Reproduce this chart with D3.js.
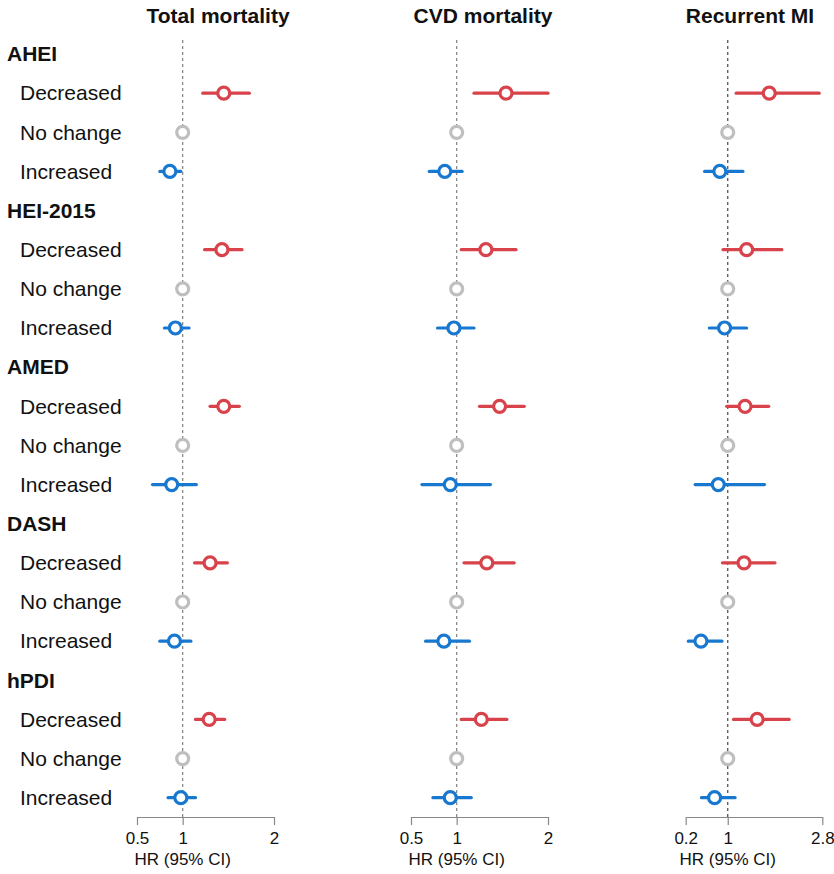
<!DOCTYPE html>
<html>
    <head>
        <title>Diet quality change and outcomes</title>
        <script src="https://d3js.org/d3.v7.min.js"></script>
        <style>
            body { margin: 0; background: #fff; }
            text { font-family: "Liberation Sans", Arial, sans-serif; fill: #111; }
            .title { font-size: 21px; font-weight: bold; }
            .group { font-size: 21px; font-weight: bold; }
            .row { font-size: 21px; }
            .axis text { font-size: 17px; fill: #111; }
            .axis path, .axis line { stroke: #888; stroke-width: 1.2; }
            .axlabel { font-size: 17px; }
        </style>
    </head>
    <body>
        <svg id="forest" width="834" height="874"></svg>

        <script>
        // Diet scores and change categories
        var scores = ["AHEI", "HEI-2015", "AMED", "DASH", "hPDI"];
        var changes = ["Decreased", "No change", "Increased"];

        // Outcome panels
        var outcomes = ["Total mortality", "CVD mortality", "Recurrent MI"];
        var tickLabels = [[0.5, 1, 2], [0.5, 1, 2], [0.2, 1, 2.8]];

        // HR, lower, upper per score: [Decreased, No change, Increased]
        var totalHR = [[1.45, 1, 0.86], [1.43, 1, 0.92], [1.45, 1, 0.88], [1.30, 1, 0.91], [1.29, 1, 0.98]];
        var totalLo = [[1.22, 1, 0.75], [1.24, 1, 0.80], [1.30, 1, 0.67], [1.13, 1, 0.75], [1.14, 1, 0.84]];
        var totalHi = [[1.73, 1, 0.98], [1.65, 1, 1.07], [1.62, 1, 1.15], [1.49, 1, 1.09], [1.46, 1, 1.14]];

        var cvdHR = [[1.54, 1, 0.87], [1.32, 1, 0.97], [1.47, 1, 0.93], [1.33, 1, 0.86], [1.27, 1, 0.93]];
        var cvdLo = [[1.19, 1, 0.70], [1.05, 1, 0.79], [1.25, 1, 0.62], [1.08, 1, 0.66], [1.05, 1, 0.74]];
        var cvdHi = [[2.00, 1, 1.06], [1.65, 1, 1.19], [1.74, 1, 1.37], [1.63, 1, 1.14], [1.55, 1, 1.16]];

        var miHR = [[1.79, 1, 0.85], [1.36, 1, 0.94], [1.33, 1, 0.82], [1.31, 1, 0.49], [1.56, 1, 0.75]];
        var miLo = [[1.16, 1, 0.56], [0.91, 1, 0.65], [0.98, 1, 0.38], [0.90, 1, 0.25], [1.11, 1, 0.50]];
        var miHi = [[2.74, 1, 1.29], [2.03, 1, 1.36], [1.78, 1, 1.70], [1.90, 1, 0.89], [2.17, 1, 1.14]];

        var colors = {"Decreased": "#d8424b", "No change": "#bfbfbf", "Increased": "#1878cf"};

        var svg = d3.select("#forest");

        // Build row keys: header row then 3 change rows per score
        var rowKeys = [];
        scores.forEach(function(s) {
            rowKeys.push(s);
            changes.forEach(function(c) { rowKeys.push(s + "|" + c); });
        });

        var y = d3.scalePoint()
            .domain(rowKeys)
            .range([54, 797.7]);

        // Row labels
        rowKeys.forEach(function(k) {
            var parts = k.split("|");
            svg.append("text")
                .attr("class", parts.length == 1 ? "group" : "row")
                .attr("x", parts.length == 1 ? 7 : 20)
                .attr("y", y(k))
                .attr("dy", "0.35em")
                .text(parts.length == 1 ? parts[0] : parts[1]);
        });

        var panels = [
            {hr: totalHR, lo: totalLo, hi: totalHi, range: [137, 274], titleX: 218, line: "#8a8a8a"},
            {hr: cvdHR, lo: cvdLo, hi: cvdHi, range: [411, 548], titleX: 483, line: "#8a8a8a"},
            {hr: miHR, lo: miLo, hi: miHi, range: [685.7, 822.3], titleX: 750, line: "#555"}
        ];

        var axisY = 817;

        panels.forEach(function(p, pi) {
            var ticks = tickLabels[pi];
            var x = d3.scaleLinear()
                .domain([ticks[0], ticks[ticks.length - 1]])
                .range(p.range);

            var g = svg.append("g");

            // Title
            g.append("text")
                .attr("class", "title")
                .attr("x", p.titleX)
                .attr("y", 23)
                .attr("text-anchor", "middle")
                .text(outcomes[pi]);

            // Reference line at HR = 1
            g.append("line")
                .attr("x1", x(1)).attr("x2", x(1))
                .attr("y1", 40).attr("y2", axisY)
                .attr("stroke", p.line)
                .attr("stroke-width", 1.3)
                .attr("stroke-dasharray", "3,3");

            // Axis
            var axis = d3.axisBottom(x)
                .tickValues(ticks)
                .tickFormat(d3.format("~g"))
                .tickSize(8)
                .tickSizeOuter(0)
                .tickPadding(7);
            g.append("g")
                .attr("class", "axis")
                .attr("transform", "translate(0," + axisY + ")")
                .call(axis);

            g.append("text")
                .attr("class", "axlabel")
                .attr("x", x(1))
                .attr("y", 865)
                .attr("text-anchor", "middle")
                .text("HR (95% CI)");

            // Flatten estimates for this panel
            var pts = [];
            scores.forEach(function(s, si) {
                changes.forEach(function(c, ci) {
                    pts.push({key: s + "|" + c, change: c,
                        hr: p.hr[si][ci], lo: p.lo[si][ci], hi: p.hi[si][ci]});
                });
            });

            // CI lines
            g.selectAll("line.ci")
                .data(pts.filter(function(d) { return d.change != "No change"; }))
                .enter().append("line")
                .attr("class", "ci")
                .attr("x1", function(d) { return x(d.lo); })
                .attr("x2", function(d) { return x(d.hi); })
                .attr("y1", function(d) { return y(d.key); })
                .attr("y2", function(d) { return y(d.key); })
                .attr("stroke", function(d) { return colors[d.change]; })
                .attr("stroke-width", 3.2)
                .attr("stroke-linecap", "round");

            // Point estimates
            g.selectAll("circle")
                .data(pts)
                .enter().append("circle")
                .attr("cx", function(d) { return x(d.hr); })
                .attr("cy", function(d) { return y(d.key); })
                .attr("r", 6)
                .attr("fill", "#fff")
                .attr("stroke", function(d) { return colors[d.change]; })
                .attr("stroke-width", 3.2);
        });
        </script>
    </body>
</html>
